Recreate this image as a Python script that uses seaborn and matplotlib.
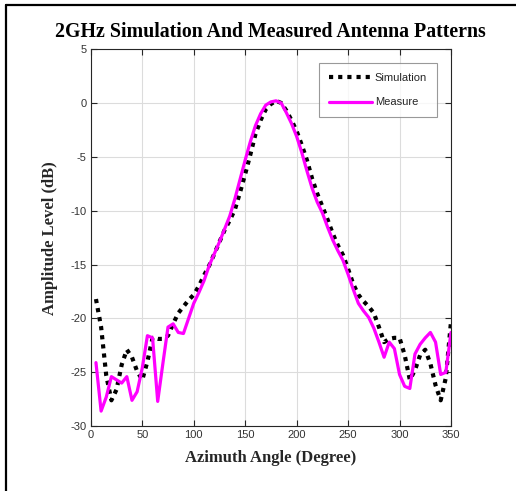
import numpy as np
import pandas as pd
import matplotlib
matplotlib.use("Agg")
import matplotlib.pyplot as plt
from matplotlib.lines import Line2D
import seaborn as sns

# Azimuth angles (degrees)
angle = list(range(5, 355, 5))

# Simulated pattern (dB)
simulation = [
    -18.2, -20.8, -25.3, -27.6, -26.6, -24.3, -22.9, -23.6, -24.9, -25.7,
    -24.0, -21.8, -21.9, -21.9, -21.6, -20.5, -19.5, -18.9, -18.3, -17.8,
    -17.0, -16.0, -15.1, -14.0, -12.9, -11.8, -10.9, -9.9, -8.3, -6.6,
    -4.8, -2.9, -1.6, -0.6, -0.1, 0.2, 0.0, -0.7, -1.6, -2.6,
    -3.9, -5.3, -7.0, -8.4, -9.6, -10.8, -12.1, -13.2, -14.1, -15.4,
    -16.8, -17.8, -18.4, -18.9, -19.5, -20.8, -22.2, -21.9, -21.8, -21.8,
    -23.4, -25.7, -24.8, -23.4, -22.9, -24.2, -26.2, -27.6, -25.5, -20.3,
]

# Measured pattern (dB)
measure = [
    -24.1, -28.6, -27.3, -25.4, -25.7, -26.0, -25.4, -27.6, -26.8, -24.6,
    -21.6, -21.8, -27.7, -24.2, -20.8, -20.5, -21.3, -21.4, -20.0, -18.6,
    -17.6, -16.5, -15.1, -14.0, -12.9, -11.7, -10.5, -8.9, -7.1, -5.3,
    -3.6, -2.1, -1.0, -0.2, 0.1, 0.2, 0.0, -0.9, -1.9, -3.1,
    -4.6, -6.3, -7.9, -9.2, -10.2, -11.5, -12.7, -13.7, -14.6, -15.9,
    -17.3, -18.6, -19.3, -19.9, -20.9, -22.2, -23.6, -22.2, -22.8, -25.2,
    -26.3, -26.5, -23.3, -22.4, -21.8, -21.3, -22.2, -25.2, -25.0, -21.3,
]

x_ticks = [0, 50, 100, 150, 200, 250, 300, 350]
y_ticks = [5, 0, -5, -10, -15, -20, -25, -30]

sns.set_theme(style="white")
plt.rcParams["font.family"] = ["Liberation Sans", "DejaVu Sans"]
plt.rcParams["axes.unicode_minus"] = False

df = pd.DataFrame({"angle": angle, "Simulation": simulation, "Measure": measure})

fig = plt.figure(figsize=(5.16, 4.91), dpi=100)
ax = fig.add_axes([0.176, 0.132, 0.698, 0.768])

sns.lineplot(data=df, x="angle", y="Simulation", ax=ax, color="black",
             linewidth=3.0, linestyle=(0, (1, 1.2)), label="Simulation",
             dash_capstyle="butt")
sns.lineplot(data=df, x="angle", y="Measure", ax=ax, color="#ff00ff",
             linewidth=2.3, label="Measure")

ax.set_xlim(0, 350)
ax.set_ylim(-30, 5)
ax.set_xticks(x_ticks)
ax.set_yticks(y_ticks)
ax.grid(True, color="#dcdcdc", linewidth=0.8)
ax.tick_params(direction="in", length=4, width=0.8, colors="#262626",
               labelsize=8, top=True, right=True, bottom=True, left=True,
               labelcolor="#333333", pad=3)
for s in ax.spines.values():
    s.set_color("#262626")
    s.set_linewidth(0.8)

ax.set_xlabel("Azimuth Angle (Degree)", fontsize=12, fontweight="bold",
              family="Liberation Serif", color="#262626", labelpad=7)
ax.set_ylabel("Amplitude Level (dB)", fontsize=12, fontweight="bold",
              family="Liberation Serif", color="#262626", labelpad=9)
fig.text(0.524, 0.935, "2GHz Simulation And Measured Antenna Patterns",
         ha="center", va="center", fontsize=14.3, fontweight="bold",
         family="Liberation Serif", color="black")

leg = ax.legend(loc="upper right", bbox_to_anchor=(0.961, 0.963),
                fontsize=8, handlelength=3.9, frameon=True, fancybox=False,
                borderpad=0.9, labelspacing=1.3, handletextpad=0.2,
                borderaxespad=0)
leg.get_frame().set_edgecolor("#808080")
leg.get_frame().set_linewidth(0.8)

# Frame edges of the figure panel
fig.add_artist(Line2D([0.0116, 0.0116], [0.0, 0.99], transform=fig.transFigure,
                      color="black", linewidth=1.6))
fig.add_artist(Line2D([0.0116, 1.0], [0.99, 0.99], transform=fig.transFigure,
                      color="black", linewidth=1.6))

fig.savefig("out.png", dpi=100)
